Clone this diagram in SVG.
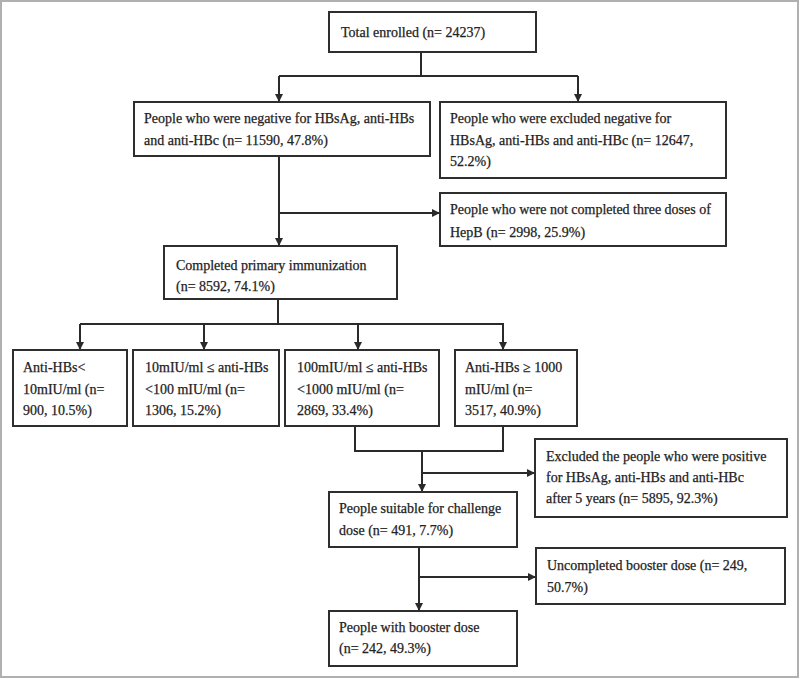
<svg xmlns="http://www.w3.org/2000/svg" width="800" height="679" viewBox="0 0 800 679">
<defs>
<marker id="ah" viewBox="0 0 10 10" refX="10" refY="5" markerWidth="8" markerHeight="8" markerUnits="userSpaceOnUse" orient="auto">
<path d="M0,0 L10,5 L0,10 z" fill="#2a2a2a"/>
</marker>
</defs>
<style>
.box{fill:#fff;stroke:#2e2e2e;stroke-width:2}
.t{font-family:"Liberation Serif","Times New Roman",serif;font-size:14px;fill:#222;stroke:#222;stroke-width:0.25}
.c{fill:none;stroke:#2a2a2a;stroke-width:2}
.a{marker-end:url(#ah)}
</style>
<rect x="1" y="1" width="797" height="676" fill="#fff" stroke="#b0b0b0" stroke-width="2"/>
<g id="connectors">
<path class="c" d="M421,52 V76 M279,76 H578"/>
<path class="c a" d="M279,76 V102"/>
<path class="c a" d="M578,76 V102"/>
<path class="c a" d="M279,156 V246"/>
<path class="c a" d="M279,213 H440"/>
<path class="c" d="M278,299 V324 M80,324 H504"/>
<path class="c a" d="M80,324 V350"/>
<path class="c a" d="M204,324 V350"/>
<path class="c a" d="M358,324 V350"/>
<path class="c a" d="M503,324 V350"/>
<path class="c" d="M355,426 V451 H503 V426"/>
<path class="c a" d="M422,451 V492"/>
<path class="c a" d="M422,473 H535"/>
<path class="c a" d="M419,547 V611"/>
<path class="c a" d="M419,577 H536"/>
</g>
<g id="total">
<rect class="box" x="329" y="12" width="207" height="40"/>
<text class="t" x="341" y="37">Total enrolled (n= 24237)</text>
</g>
<g id="negative">
<rect class="box" x="134" y="102" width="296" height="54"/>
<text class="t" x="144" y="123">People who were negative for HBsAg, anti-HBs</text>
<text class="t" x="144" y="145">and anti-HBc (n= 11590, 47.8%)</text>
</g>
<g id="excluded-negative">
<rect class="box" x="440" y="102" width="286" height="76"/>
<text class="t" x="450" y="123">People who were excluded negative for</text>
<text class="t" x="450" y="145">HBsAg, anti-HBs and anti-HBc (n= 12647,</text>
<text class="t" x="450" y="166">52.2%)</text>
</g>
<g id="not-completed">
<rect class="box" x="440" y="193" width="286" height="53"/>
<text class="t" x="450" y="214">People who were not completed three doses of</text>
<text class="t" x="450" y="237">HepB (n= 2998, 25.9%)</text>
</g>
<g id="completed">
<rect class="box" x="164" y="246" width="233" height="53"/>
<text class="t" x="176" y="270">Completed primary immunization</text>
<text class="t" x="176" y="291">(n= 8592, 74.1%)</text>
</g>
<g id="lt10">
<rect class="box" x="13" y="350" width="114" height="76"/>
<text class="t" x="23" y="372">Anti-HBs&lt;</text>
<text class="t" x="23" y="394">10mIU/ml (n=</text>
<text class="t" x="23" y="415">900, 10.5%)</text>
</g>
<g id="r10-100">
<rect class="box" x="133" y="350" width="146" height="76"/>
<text class="t" x="145" y="372">10mIU/ml ≤ anti-HBs</text>
<text class="t" x="145" y="394">&lt;100 mIU/ml (n=</text>
<text class="t" x="145" y="415">1306, 15.2%)</text>
</g>
<g id="r100-1000">
<rect class="box" x="285" y="350" width="154" height="76"/>
<text class="t" x="297" y="372">100mIU/ml ≤ anti-HBs</text>
<text class="t" x="297" y="394">&lt;1000 mIU/ml (n=</text>
<text class="t" x="297" y="415">2869, 33.4%)</text>
</g>
<g id="ge1000">
<rect class="box" x="455" y="350" width="122" height="76"/>
<text class="t" x="465" y="372">Anti-HBs ≥ 1000</text>
<text class="t" x="465" y="394">mIU/ml (n=</text>
<text class="t" x="465" y="415">3517, 40.9%)</text>
</g>
<g id="excluded-positive">
<rect class="box" x="535" y="439" width="252" height="78"/>
<text class="t" x="546" y="461">Excluded the people who were positive</text>
<text class="t" x="546" y="482">for HBsAg, anti-HBs and anti-HBc</text>
<text class="t" x="546" y="503">after 5 years (n= 5895, 92.3%)</text>
</g>
<g id="suitable">
<rect class="box" x="329" y="492" width="188" height="55"/>
<text class="t" x="339" y="513">People suitable for challenge</text>
<text class="t" x="339" y="535">dose (n= 491, 7.7%)</text>
</g>
<g id="uncompleted">
<rect class="box" x="536" y="548" width="249" height="56"/>
<text class="t" x="547" y="570">Uncompleted booster dose (n= 249,</text>
<text class="t" x="547" y="592">50.7%)</text>
</g>
<g id="booster">
<rect class="box" x="329" y="611" width="188" height="55"/>
<text class="t" x="339" y="632">People with booster dose</text>
<text class="t" x="339" y="653">(n= 242, 49.3%)</text>
</g>
</svg>
